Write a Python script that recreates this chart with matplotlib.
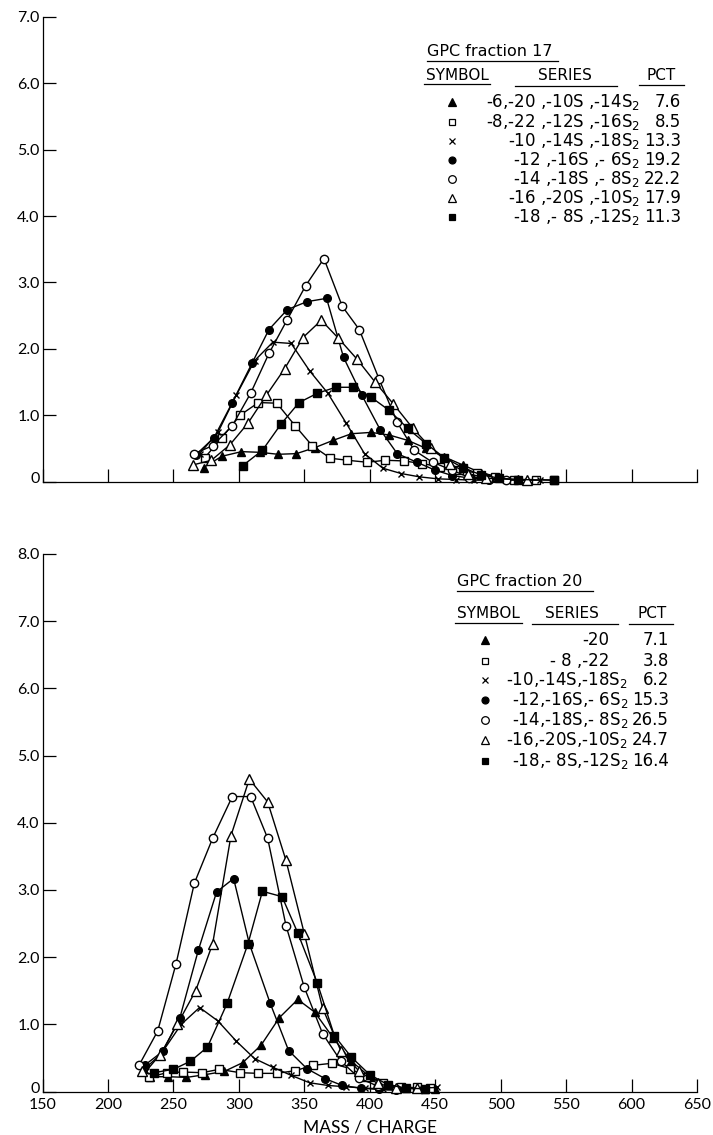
import matplotlib
matplotlib.use("Agg")
import matplotlib.pyplot as plt
import matplotlib.transforms as mtransforms
from matplotlib.lines import Line2D

plt.rcParams["font.family"] = ["Lato", "DejaVu Sans"]
plt.rcParams["mathtext.fontset"] = "dejavusans"
plt.rcParams["mathtext.default"] = "regular"

# ---- GPC fraction 17 (top panel) ----
m17_tri = [273, 287, 302, 316, 330, 344, 358, 372, 386, 401, 415, 429, 443, 457, 471, 485, 499, 513]
v17_tri = [0.21, 0.38, 0.45, 0.44, 0.41, 0.42, 0.51, 0.62, 0.72, 0.74, 0.70, 0.62, 0.50, 0.37, 0.25, 0.13, 0.07, 0.04]
m17_sqo = [274, 287, 301, 315, 329, 343, 356, 370, 383, 398, 412, 426, 440, 454, 468, 482, 496, 510, 527, 541]
v17_sqo = [0.36, 0.66, 1.00, 1.19, 1.18, 0.84, 0.54, 0.35, 0.32, 0.29, 0.32, 0.31, 0.27, 0.22, 0.17, 0.13, 0.07, 0.03, 0.03, 0.02]
m17_x = [270, 284, 298, 312, 326, 340, 354, 368, 382, 396, 410, 424, 438, 452, 466, 480, 530]
v17_x = [0.42, 0.74, 1.30, 1.82, 2.10, 2.08, 1.67, 1.33, 0.88, 0.42, 0.20, 0.12, 0.07, 0.04, 0.03, 0.02, 0.02]
m17_dot = [267, 281, 295, 310, 323, 337, 352, 367, 380, 394, 408, 421, 436, 450, 463, 477, 491]
v17_dot = [0.40, 0.66, 1.19, 1.78, 2.29, 2.59, 2.71, 2.76, 1.87, 1.30, 0.78, 0.42, 0.29, 0.17, 0.09, 0.05, 0.03]
m17_circ = [266, 280, 295, 309, 323, 337, 351, 365, 379, 392, 407, 421, 434, 448, 463, 476, 490, 504]
v17_circ = [0.42, 0.54, 0.84, 1.33, 1.93, 2.44, 2.95, 3.36, 2.64, 2.29, 1.55, 0.89, 0.47, 0.29, 0.17, 0.06, 0.04, 0.02]
m17_trio = [265, 279, 293, 307, 321, 335, 349, 363, 376, 390, 404, 418, 433, 447, 461, 475, 489, 520]
v17_trio = [0.25, 0.32, 0.55, 0.88, 1.30, 1.70, 2.17, 2.43, 2.16, 1.85, 1.50, 1.17, 0.80, 0.50, 0.27, 0.12, 0.05, 0.02]
m17_sq = [303, 318, 332, 346, 360, 374, 387, 401, 415, 429, 443, 457, 471, 485, 499, 513, 541]
v17_sq = [0.24, 0.47, 0.86, 1.19, 1.33, 1.42, 1.42, 1.27, 1.07, 0.80, 0.57, 0.36, 0.21, 0.10, 0.05, 0.03, 0.02]

# ---- GPC fraction 20 (bottom panel) ----
m20_tri = [232, 246, 260, 274, 289, 303, 317, 331, 345, 358, 372, 386, 400, 414, 428, 442, 450]
v20_tri = [0.22, 0.22, 0.21, 0.25, 0.30, 0.43, 0.69, 1.10, 1.37, 1.18, 0.80, 0.45, 0.22, 0.10, 0.05, 0.03, 0.03]
m20_sqo = [231, 245, 257, 272, 285, 301, 315, 329, 343, 357, 371, 385, 397, 410, 424, 436, 446]
v20_sqo = [0.21, 0.28, 0.29, 0.28, 0.33, 0.28, 0.27, 0.27, 0.31, 0.39, 0.42, 0.34, 0.22, 0.13, 0.06, 0.06, 0.05]
m20_x = [229, 242, 256, 270, 284, 298, 312, 326, 340, 354, 368, 382, 396, 410, 424, 438, 451]
v20_x = [0.30, 0.60, 1.00, 1.25, 1.05, 0.75, 0.49, 0.36, 0.24, 0.13, 0.09, 0.07, 0.05, 0.04, 0.04, 0.05, 0.06]
m20_dot = [228, 242, 255, 269, 283, 296, 308, 324, 338, 352, 366, 379, 393, 407, 420]
v20_dot = [0.39, 0.60, 1.10, 2.10, 2.97, 3.17, 2.20, 1.31, 0.61, 0.34, 0.19, 0.09, 0.05, 0.03, 0.02]
m20_circ = [224, 238, 252, 266, 280, 295, 309, 322, 336, 350, 364, 378, 392, 406, 420]
v20_circ = [0.40, 0.90, 1.90, 3.10, 3.77, 4.39, 4.39, 3.77, 2.47, 1.55, 0.86, 0.45, 0.20, 0.08, 0.03]
m20_trio = [226, 240, 253, 267, 280, 294, 308, 322, 336, 350, 364, 378, 392, 406, 420, 436]
v20_trio = [0.30, 0.55, 1.00, 1.50, 2.20, 3.81, 4.65, 4.31, 3.44, 2.35, 1.24, 0.60, 0.30, 0.12, 0.05, 0.05]
m20_sq = [235, 250, 263, 276, 291, 307, 318, 333, 345, 360, 373, 386, 400, 414, 428, 442]
v20_sq = [0.28, 0.33, 0.45, 0.66, 1.31, 2.20, 2.98, 2.90, 2.36, 1.61, 0.83, 0.51, 0.25, 0.10, 0.05, 0.04]

series17 = [m17_tri, m17_sqo, m17_x, m17_dot, m17_circ, m17_trio, m17_sq]
values17 = [v17_tri, v17_sqo, v17_x, v17_dot, v17_circ, v17_trio, v17_sq]
series20 = [m20_tri, m20_sqo, m20_x, m20_dot, m20_circ, m20_trio, m20_sq]
values20 = [v20_tri, v20_sqo, v20_x, v20_dot, v20_circ, v20_trio, v20_sq]

labels17 = ["-6,-20 ,-10S ,-14S$_2$", "-8,-22 ,-12S ,-16S$_2$", "-10 ,-14S ,-18S$_2$",
            "-12 ,-16S ,- 6S$_2$", "-14 ,-18S ,- 8S$_2$", "-16 ,-20S ,-10S$_2$",
            "-18 ,- 8S ,-12S$_2$"]
pct17 = ["7.6", "8.5", "13.3", "19.2", "22.2", "17.9", "11.3"]
labels20 = ["-20", "- 8 ,-22", "-10,-14S,-18S$_2$", "-12,-16S,- 6S$_2$",
            "-14,-18S,- 8S$_2$", "-16,-20S,-10S$_2$", "-18,- 8S,-12S$_2$"]
pct20 = ["7.1", "3.8", "6.2", "15.3", "26.5", "24.7", "16.4"]

# marker, face colour, size
markers = [("^", "black", 6), ("s", "white", 5.5), ("x", "black", 5), ("o", "black", 5.5),
           ("o", "white", 6), ("^", "white", 6.5), ("s", "black", 5.5)]

W, H = 713, 1135
fig = plt.figure(figsize=(W / 100, H / 100), dpi=100)
LEG_FONT = ["DejaVu Sans"]


def fx(px):
    return px / W


def fy(py):
    return 1 - py / H


def make_axes(bottom_px, top_px, ymax):
    ax = fig.add_axes([fx(42.5), fy(bottom_px), fx(697) - fx(42.5), fy(top_px) - fy(bottom_px)])
    ax.set_xlim(150, 650)
    ax.set_ylim(0, ymax)
    for s in ["top", "right"]:
        ax.spines[s].set_visible(False)
    for s in ["left", "bottom"]:
        ax.spines[s].set_linewidth(0.9)
    ax.set_xticks(range(150, 651, 50))
    ax.set_yticks(range(0, ymax + 1))
    ax.set_yticklabels(["0"] + ["%.1f" % v for v in range(1, ymax + 1)])
    ax.tick_params(direction="in", length=9.5, width=0.9, labelsize=11.5, pad=2)
    ax.tick_params(axis="x", pad=5)
    # lift the "0" label a little, as in the original
    zero = ax.get_yticklabels()[0]
    zero.set_transform(zero.get_transform() +
                       mtransforms.ScaledTranslation(0, 3 / 72, fig.dpi_scale_trans))
    return ax


def draw(ax, xs, ys):
    for (mk, fc, ms), x, y in zip(markers, xs, ys):
        ax.plot(x, y, color="black", lw=1.0, marker=mk, ms=ms, mfc=fc, mec="black",
                mew=1.0, clip_on=False, zorder=3)


ax1 = make_axes(481.5, 17, 7)
ax1.tick_params(axis="x", labelbottom=False)
draw(ax1, series17, values17)

ax2 = make_axes(1091.5, 554, 8)
ax2.set_xlabel("MASS / CHARGE", fontsize=12.5, labelpad=5)
draw(ax2, series20, values20)


def hline(x0, x1, y):
    fig.add_artist(Line2D([fx(x0), fx(x1)], [fy(y), fy(y)], color="black", lw=0.9))


def legend(title, title_x, title_y, uline, head_y, heads, ulines, rows_y, sym_x,
           labels, lab_right, pct, pct_right):
    fig.text(fx(title_x), fy(title_y), title, fontsize=11.5, ha="left", va="center",
             family=LEG_FONT)
    hline(*uline)
    for name, cx in heads:
        fig.text(fx(cx), fy(head_y), name, fontsize=11, ha="center", va="center",
                 family=LEG_FONT)
    for u in ulines:
        hline(*u)
    for (mk, fc, ms), y, lab, lr, p in zip(markers, rows_y, labels, lab_right, pct):
        fig.add_artist(Line2D([fx(sym_x)], [fy(y)], marker=mk, ms=ms - 0.5, mfc=fc,
                              mec="black", mew=0.9, color="black", lw=0))
        fig.text(fx(lr), fy(y), lab, fontsize=12, ha="right", va="center", family=LEG_FONT)
        fig.text(fx(pct_right), fy(y), p, fontsize=12, ha="right", va="center",
                 family=LEG_FONT)


legend("GPC fraction 17", 427, 51, (427, 558, 61), 76,
       [("SYMBOL", 457), ("SERIES", 565), ("PCT", 661)],
       [(424, 490, 84), (515, 617, 86), (639, 684, 85)],
       [102, 122, 141, 160, 179, 198, 217], 452,
       labels17, [640] * 7, pct17, 681)

legend("GPC fraction 20", 457, 581, (457, 593, 591), 614,
       [("SYMBOL", 488), ("SERIES", 572), ("PCT", 652)],
       [(455, 522, 623), (532, 618, 624), (629, 673, 624)],
       [640, 661, 680, 700, 720, 740, 761], 485,
       labels20, [609, 609, 628, 628, 628, 628, 628], pct20, 669)

fig.savefig("out.png", dpi=100)
